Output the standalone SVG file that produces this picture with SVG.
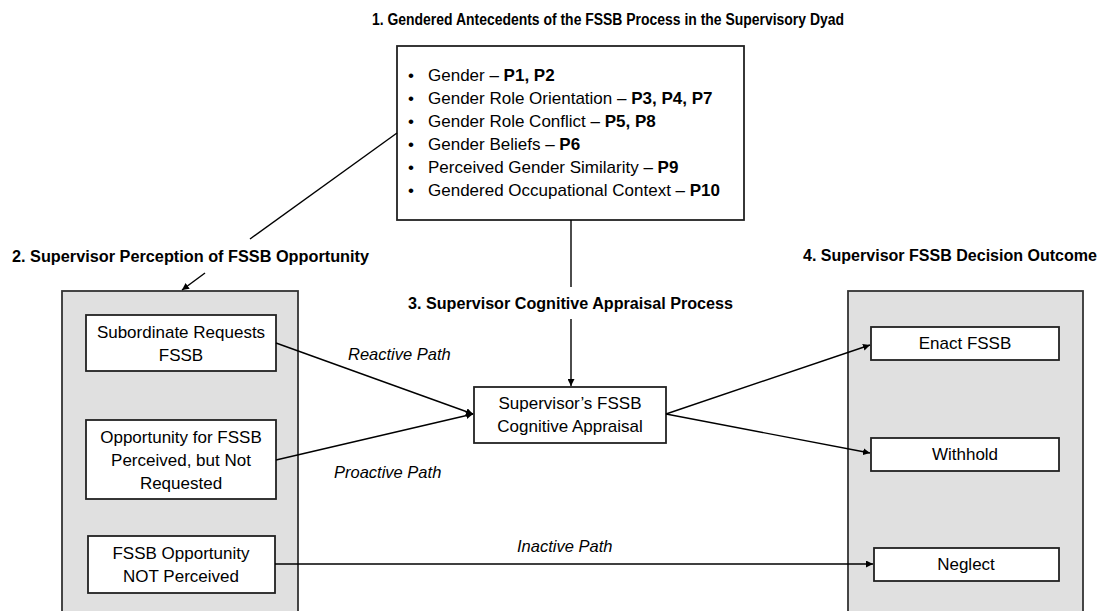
<svg xmlns="http://www.w3.org/2000/svg" width="1104" height="611" viewBox="0 0 1104 611">
<style>
text{font-family:"Liberation Sans",Arial,sans-serif;fill:#000}
.title{font-size:16px;font-weight:bold}
.box{fill:#fff;stroke:#222;stroke-width:1.8}
.panel{fill:#e0e0e0;stroke:#333;stroke-width:1.8}
.bt{font-size:17px;text-anchor:middle}
.bl{font-size:17px}
.b{font-weight:bold}
.path{font-size:16.5px;font-style:italic}
.conn{stroke:#000;stroke-width:1.4;fill:none}
</style>
<defs>
<marker id="ah" viewBox="0 0 10 10" refX="10" refY="5" markerWidth="7" markerHeight="7" markerUnits="userSpaceOnUse" orient="auto">
<path d="M0,0 L10,5 L0,10 z" fill="#000"/>
</marker>
</defs>
<rect width="1104" height="611" fill="#fff"/>

<g id="titles">
<text class="title" x="608" y="25" text-anchor="middle" textLength="472" lengthAdjust="spacingAndGlyphs">1. Gendered Antecedents of the FSSB Process in the Supervisory Dyad</text>
<text class="title" x="12" y="262" textLength="357" lengthAdjust="spacingAndGlyphs">2. Supervisor Perception of FSSB Opportunity</text>
<text class="title" x="408" y="309" textLength="325" lengthAdjust="spacingAndGlyphs">3. Supervisor Cognitive Appraisal Process</text>
<text class="title" x="803" y="261" textLength="294" lengthAdjust="spacingAndGlyphs">4. Supervisor FSSB Decision Outcome</text>
</g>

<g id="panel-left"><rect class="panel" x="62" y="291" width="236" height="330"/></g>
<g id="panel-right"><rect class="panel" x="848" y="291" width="235" height="330"/></g>

<g id="antecedents">
<rect class="box" x="397" y="46" width="347" height="174"/>
<g class="bl">
<text x="408" y="81">•</text><text x="428" y="81">Gender – <tspan class="b">P1, P2</tspan></text>
<text x="408" y="104">•</text><text x="428" y="104">Gender Role Orientation – <tspan class="b">P3, P4, P7</tspan></text>
<text x="408" y="127">•</text><text x="428" y="127">Gender Role Conflict – <tspan class="b">P5, P8</tspan></text>
<text x="408" y="150">•</text><text x="428" y="150">Gender Beliefs – <tspan class="b">P6</tspan></text>
<text x="408" y="173">•</text><text x="428" y="173">Perceived Gender Similarity – <tspan class="b">P9</tspan></text>
<text x="408" y="196">•</text><text x="428" y="196">Gendered Occupational Context – <tspan class="b">P10</tspan></text>
</g>
</g>

<g id="subordinate-requests">
<rect class="box" x="86" y="315" width="190" height="56"/>
<text class="bt" x="181" y="338">Subordinate Requests</text>
<text class="bt" x="181" y="361">FSSB</text>
</g>

<g id="opportunity-perceived">
<rect class="box" x="86" y="420" width="190" height="79"/>
<text class="bt" x="181" y="443">Opportunity for FSSB</text>
<text class="bt" x="181" y="466">Perceived, but Not</text>
<text class="bt" x="181" y="489">Requested</text>
</g>

<g id="opportunity-not-perceived">
<rect class="box" x="88" y="536" width="187" height="57"/>
<text class="bt" x="181" y="559">FSSB Opportunity</text>
<text class="bt" x="181" y="582">NOT Perceived</text>
</g>

<g id="appraisal">
<rect class="box" x="474" y="387" width="192" height="56"/>
<text class="bt" x="570" y="409">Supervisor’s FSSB</text>
<text class="bt" x="570" y="432">Cognitive Appraisal</text>
</g>

<g id="enact">
<rect class="box" x="871" y="327" width="188" height="33"/>
<text class="bt" x="965" y="349">Enact FSSB</text>
</g>
<g id="withhold">
<rect class="box" x="871" y="438" width="188" height="33"/>
<text class="bt" x="965" y="460">Withhold</text>
</g>
<g id="neglect">
<rect class="box" x="874" y="548" width="185" height="33"/>
<text class="bt" x="966" y="570">Neglect</text>
</g>

<g id="connectors">
<line class="conn" x1="397" y1="133" x2="250" y2="239"/>
<line class="conn" x1="205" y1="273" x2="182" y2="290" marker-end="url(#ah)"/>
<line class="conn" x1="571" y1="220" x2="571" y2="287"/>
<line class="conn" x1="571" y1="319" x2="571" y2="386" marker-end="url(#ah)"/>
<line class="conn" x1="276" y1="343" x2="473" y2="414" marker-end="url(#ah)"/>
<line class="conn" x1="276" y1="460" x2="473" y2="414" marker-end="url(#ah)"/>
<line class="conn" x1="666" y1="414" x2="870" y2="345" marker-end="url(#ah)"/>
<line class="conn" x1="666" y1="414" x2="870" y2="453" marker-end="url(#ah)"/>
<line class="conn" x1="275" y1="564" x2="873" y2="564" marker-end="url(#ah)"/>
<text class="path" x="348" y="360">Reactive Path</text>
<text class="path" x="334" y="478">Proactive Path</text>
<text class="path" x="517" y="552">Inactive Path</text>
</g>
</svg>
